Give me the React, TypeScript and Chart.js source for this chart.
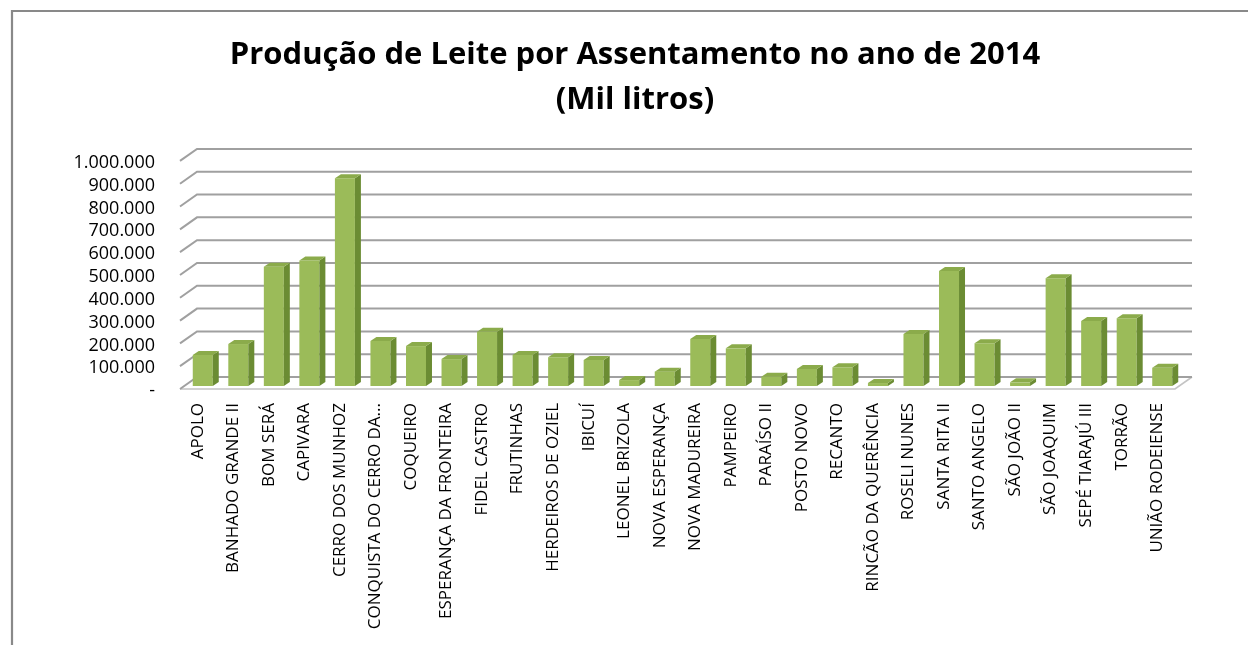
import React, { useEffect, useRef } from 'react';
import { Chart, registerables } from 'chart.js';

Chart.register(...registerables);

const categories = [
  'APOLO',
  'BANHADO GRANDE II',
  'BOM SERÁ',
  'CAPIVARA',
  'CERRO DOS MUNHOZ',
  'CONQUISTA DO CERRO DA...',
  'COQUEIRO',
  'ESPERANÇA DA FRONTEIRA',
  'FIDEL CASTRO',
  'FRUTINHAS',
  'HERDEIROS DE OZIEL',
  'IBICUÍ',
  'LEONEL BRIZOLA',
  'NOVA ESPERANÇA',
  'NOVA MADUREIRA',
  'PAMPEIRO',
  'PARAÍSO II',
  'POSTO NOVO',
  'RECANTO',
  'RINCÃO DA QUERÊNCIA',
  'ROSELI NUNES',
  'SANTA RITA II',
  'SANTO ANGELO',
  'SÃO JOÃO II',
  'SÃO JOAQUIM',
  'SEPÉ TIARAJÚ III',
  'TORRÃO',
  'UNIÃO RODEIENSE',
];

const production = [
  136000, 184000, 523000, 550000, 911000, 197000, 175000, 118000, 238000, 136000,
  126000, 114000, 26000, 63000, 206000, 165000, 41000, 75000, 82000, 13000,
  228000, 504000, 187000, 16000, 472000, 285000, 297000, 80000,
];

const yTickLabels = [
  '-', '100.000', '200.000', '300.000', '400.000', '500.000',
  '600.000', '700.000', '800.000', '900.000', '1.000.000',
];

const titleLines = ['Produção de Leite por Assentamento no ano de 2014', '(Mil litros)'];

const frameBorder = {
  id: 'frameBorder',
  beforeDraw(chart: any) {
    const { ctx, width, height } = chart;
    ctx.save();
    ctx.fillStyle = '#ffffff';
    ctx.fillRect(0, 0, width, height);
    ctx.strokeStyle = '#898989';
    ctx.lineWidth = 2.2;
    ctx.beginPath();
    ctx.moveTo(12, height);
    ctx.lineTo(12, 11);
    ctx.lineTo(width, 11);
    ctx.stroke();
    ctx.restore();
  },
};

// offsets of the front plane and back wall relative to the bar face plane
const FRONT_DX = -5, FRONT_DY = 3;
const BACK_DX = 12, BACK_DY = -9;

const walls3d = {
  id: 'walls3d',
  beforeDatasetsDraw(chart: any) {
    const { ctx, chartArea, scales } = chart;
    const { left, right } = chartArea;
    const y = scales.y;
    ctx.save();
    const y0 = y.getPixelForValue(0);
    ctx.strokeStyle = '#C4C4C4';
    ctx.lineWidth = 1.6;
    ctx.beginPath();
    ctx.moveTo(left + FRONT_DX, y0 + FRONT_DY);
    ctx.lineTo(right + FRONT_DX, y0 + FRONT_DY);
    ctx.lineTo(right + BACK_DX, y0 + BACK_DY);
    ctx.stroke();
    ctx.strokeStyle = '#A0A0A0';
    ctx.lineWidth = 2;
    ctx.beginPath();
    y.ticks.forEach((t: any) => {
      const py = y.getPixelForValue(t.value);
      ctx.moveTo(left + FRONT_DX, py + FRONT_DY);
      ctx.lineTo(left + BACK_DX, py + BACK_DY);
      ctx.lineTo(right + BACK_DX, py + BACK_DY);
    });
    ctx.stroke();
    ctx.restore();
  },
  afterDatasetsDraw(chart: any) {
    const { ctx } = chart;
    const meta = chart.getDatasetMeta(0);
    const dx = 6, dy = -4;
    ctx.save();
    meta.data.forEach((bar: any) => {
      const { x, y, base, width } = bar.getProps(['x', 'y', 'base', 'width'], true);
      const l = x - width / 2;
      const r = x + width / 2;
      ctx.fillStyle = '#6B8C33';
      ctx.beginPath();
      ctx.moveTo(r, y);
      ctx.lineTo(r + dx, y + dy);
      ctx.lineTo(r + dx, base + dy);
      ctx.lineTo(r, base);
      ctx.closePath();
      ctx.fill();
      ctx.fillStyle = '#8BAB4B';
      ctx.beginPath();
      ctx.moveTo(l, y);
      ctx.lineTo(l + dx, y + dy);
      ctx.lineTo(r + dx, y + dy);
      ctx.lineTo(r, y);
      ctx.closePath();
      ctx.fill();
    });
    ctx.restore();
  },
};

export default function App() {
  const canvasRef = useRef<HTMLCanvasElement | null>(null);

  useEffect(() => {
    if (!canvasRef.current) return;
    const chart = new Chart(canvasRef.current, {
      type: 'bar',
      data: {
        labels: categories,
        datasets: [
          {
            label: 'Produção',
            data: production,
            backgroundColor: '#9BBB59',
            borderWidth: 0,
            categoryPercentage: 1,
            barPercentage: 0.563,
          },
        ],
      },
      options: {
        animation: false,
        responsive: true,
        maintainAspectRatio: false,
        layout: { padding: { left: 22, right: 0, top: 0, bottom: 0 } },
        plugins: {
          legend: { display: false },
          tooltip: { enabled: false },
          title: {
            display: true,
            text: titleLines,
            color: '#000000',
            font: { family: 'Open Sans', size: 31, weight: 'bold', lineHeight: 1.45 },
            padding: { top: 33, bottom: 35 },
          },
        },
        scales: {
          x: {
            grid: { display: false, drawTicks: false, tickLength: 0 },
            border: { display: false },
            ticks: {
              autoSkip: false,
              maxRotation: 90,
              minRotation: 90,
              padding: 17,
              labelOffset: -5,
              color: '#000000',
              font: { family: 'Open Sans', size: 17 },
            },
            afterFit: (s: any) => {
              s.height = 259;
            },
          },
          y: {
            min: 0,
            max: 1000000,
            grid: { display: false, drawTicks: false, tickLength: 0 },
            border: { display: false },
            ticks: {
              autoSkip: false,
              stepSize: 100000,
              padding: 30,
              labelOffset: 5,
              color: '#000000',
              font: { family: 'Open Sans', size: 18 },
              callback: (v: any) => yTickLabels[Math.round(Number(v) / 100000)],
            },
            afterFit: (s: any) => {
              s.width = 163;
            },
          },
          yRight: {
            type: 'linear',
            position: 'right',
            display: true,
            grid: { display: false, drawTicks: false },
            border: { display: false },
            ticks: { display: false },
            afterFit: (s: any) => {
              s.width = 68;
            },
          },
        },
      },
      plugins: [frameBorder, walls3d],
    });
    return () => chart.destroy();
  }, []);

  return (
    <div style={{ position: 'fixed', left: 0, top: 0, width: 1248, height: 645, background: '#fff' }}>
      <canvas ref={canvasRef} />
    </div>
  );
}
